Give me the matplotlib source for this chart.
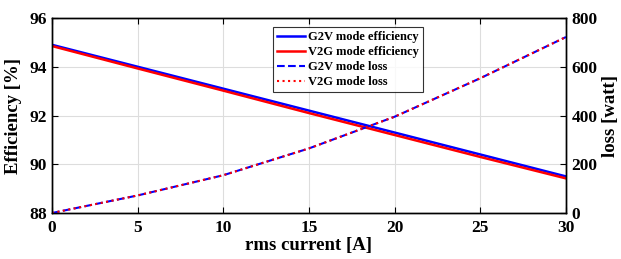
import matplotlib
matplotlib.use("Agg")
import matplotlib.pyplot as plt

# values
current = [0, 5, 10, 15, 20, 25, 30]
eff_g2v = [94.9, 94.0, 93.1, 92.2, 91.3, 90.4, 89.5]
eff_v2g = [94.85, 93.93, 93.02, 92.1, 91.2, 90.3, 89.42]
loss_g2v = [0, 72, 155, 265, 395, 553, 722]
loss_v2g = [0, 72, 155, 265, 395, 553, 722]

plt.rcParams['font.family'] = 'Liberation Serif'
plt.rcParams['font.weight'] = 'bold'

fig = plt.figure(figsize=(6.21, 2.59), dpi=100)
ax = fig.add_axes([0.0837, 0.1776, 0.8277, 0.7529])
ax2 = ax.twinx()

l1, = ax.plot(current, eff_g2v, color='blue', lw=1.8, label='G2V mode efficiency')
l2, = ax.plot(current, eff_v2g, color='red', lw=1.8, label='V2G mode efficiency')
l3, = ax2.plot(current, loss_g2v, color='blue', lw=1.5, ls='--', label='G2V mode loss')
l4, = ax2.plot(current, loss_v2g, color='red', lw=1.5, ls=':', label='V2G mode loss')

ax.set_xlim(0, 30)
ax.set_ylim(88, 96)
ax2.set_ylim(0, 800)
ax.set_xticks([0, 5, 10, 15, 20, 25, 30])
ax.set_yticks([88, 90, 92, 94, 96])
ax2.set_yticks([0, 200, 400, 600, 800])

ax.grid(True, color='#dddddd', lw=0.8)
ax.set_axisbelow(True)
ax.tick_params(direction='in', top=True, labelsize=12.5, length=4)
ax.tick_params(axis='x', pad=5)
ax2.tick_params(direction='in', labelsize=12.5, length=4, pad=4)
for a in (ax, ax2):
    for s in a.spines.values():
        s.set_linewidth(1.0)

ax.set_xlabel('rms current [A]', fontsize=13.5, fontweight='bold', labelpad=1)
ax.set_ylabel('Efficiency [%]', fontsize=13.5, fontweight='bold', labelpad=5)
ax2.set_ylabel('loss [watt]', fontsize=13.5, fontweight='bold', labelpad=3)

leg = fig.legend(handles=[l1, l2, l3, l4], loc='upper left',
                 bbox_to_anchor=(267 / 621, 1 - 21 / 259),
                 frameon=True, fancybox=False, edgecolor='black',
                 handlelength=2.2, handletextpad=0.3, borderpad=0.3,
                 labelspacing=0.25, prop={'weight': 'bold', 'size': 9})
leg.get_frame().set_linewidth(0.8)

fig.savefig('out.png', dpi=100)
